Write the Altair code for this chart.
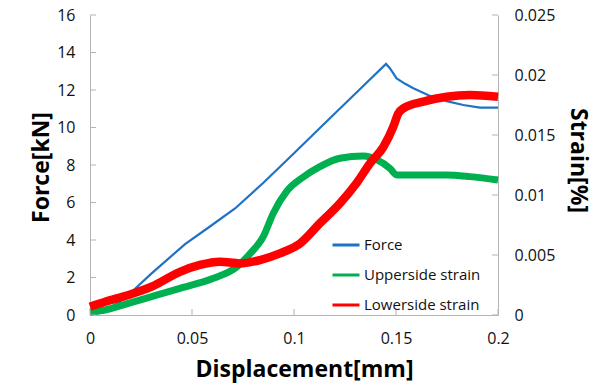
import altair as alt
import pandas as pd

# Load-displacement and surface strain readings
force_disp = [0, 0.005, 0.01, 0.015, 0.0188, 0.0302, 0.0466, 0.0588, 0.0711, 0.085,
              0.1, 0.1176, 0.13, 0.1451, 0.147, 0.1503, 0.1545, 0.1585, 0.1667, 0.1748,
              0.183, 0.1912, 0.2]
force_kn = [0, 0.12, 0.4, 0.75, 1.07, 2.22, 3.78, 4.72, 5.68, 7.05,
            8.63, 10.49, 11.8, 13.39, 13.16, 12.62, 12.33, 12.09, 11.68, 11.41,
            11.2, 11.06, 11.06]

upper_disp = [0, 0.0074, 0.0188, 0.0302, 0.0441, 0.0605, 0.0719, 0.0784, 0.085,
              0.0899, 0.0964, 0.1046, 0.1127, 0.1225, 0.134, 0.1405, 0.147, 0.1503,
              0.1585, 0.1748, 0.1863, 0.2]
upper_strain = [0.00025, 0.00042, 0.00097, 0.00153, 0.00222, 0.00306, 0.0040, 0.0051, 0.00655,
                0.0085, 0.0103, 0.0115, 0.01236, 0.01306, 0.01325, 0.01295, 0.01222, 0.01167,
                0.01167, 0.01167, 0.01153, 0.01125]

lower_disp = [0, 0.0074, 0.0188, 0.0302, 0.0441, 0.0539, 0.0637, 0.0735, 0.0833,
              0.0931, 0.1029, 0.1127, 0.1225, 0.1307, 0.1373, 0.1438, 0.1487, 0.1511,
              0.1536, 0.1634, 0.1748, 0.1863, 0.2]
lower_strain = [0.00069, 0.0011, 0.00167, 0.00236, 0.0036, 0.00417, 0.00444, 0.0043, 0.00458,
                0.00514, 0.00595, 0.00764, 0.0093, 0.011, 0.01264, 0.014, 0.0157, 0.0168,
                0.01722, 0.01778, 0.01819, 0.01833, 0.01819]

series_names = ["Force", "Upperside strain", "Lowerside strain"]
series_colors = ["#1f72c4", "#00b050", "#ff0000"]

disp_ticks = [0, 0.05, 0.1, 0.15, 0.2]
force_ticks = [0, 2, 4, 6, 8, 10, 12, 14, 16]
strain_ticks = [0, 0.005, 0.01, 0.015, 0.02, 0.025]

PLOT_W, PLOT_H = 408, 300
FONT = "Open Sans"
AXIS_GRAY = "#b4b4b4"
TICK_LEN = 6

force_df = pd.DataFrame({"disp": force_disp, "value": force_kn, "series": series_names[0]})
upper_df = pd.DataFrame({"disp": upper_disp, "value": upper_strain, "series": series_names[1]})
lower_df = pd.DataFrame({"disp": lower_disp, "value": lower_strain, "series": series_names[2]})

x_scale = alt.Scale(domain=[0, 0.2], nice=False)
force_scale = alt.Scale(domain=[0, 16], nice=False)
strain_scale = alt.Scale(domain=[0, 0.025], nice=False)

color = alt.Color(
    "series:N",
    scale=alt.Scale(domain=series_names, range=series_colors),
    legend=alt.Legend(
        title=None, orient="none", legendX=241, legendY=215, padding=0,
        symbolType="stroke", symbolSize=729, symbolStrokeWidth=3,
        labelFont=FONT, labelFontSize=15, labelColor="#111111", labelOffset=3,
        rowPadding=7, direction="vertical",
    ),
)

x_axis = alt.Axis(
    values=disp_ticks, title="Displacement[mm]", format="~g", grid=False, ticks=False,
    labelFlush=False, domainColor=AXIS_GRAY, labelFont=FONT, labelFontSize=16,
    labelColor="#111111", labelPadding=15, titleFont=FONT, titleFontSize=23,
    titleFontWeight="bold", titleColor="#000000", titleX=214, titleY=61,
    titleBaseline="alphabetic",
)
x_enc = alt.X("disp:Q", scale=x_scale, axis=x_axis)

force_line = alt.Chart(force_df).mark_line(strokeWidth=2.2).encode(
    x=x_enc,
    y=alt.Y(
        "value:Q", scale=force_scale,
        axis=alt.Axis(
            orient="left", values=force_ticks, title="Force[kN]", grid=False, ticks=False,
            labelFlush=False, domainColor=AXIS_GRAY, labelFont=FONT, labelFontSize=16,
            labelColor="#111111", labelPadding=15, titleFont=FONT, titleFontSize=23,
            titleFontWeight="bold", titleColor="#000000", titleX=-49, titleY=152,
            titleBaseline="middle",
        ),
    ),
    color=color,
)

upper_line = alt.Chart(upper_df).mark_line(strokeWidth=7, interpolate="monotone").encode(
    x=x_enc,
    y=alt.Y(
        "value:Q", scale=strain_scale,
        axis=alt.Axis(
            orient="right", values=strain_ticks, format="~g", title="Strain[%]", grid=False,
            ticks=False, labelFlush=False, domainColor=AXIS_GRAY, labelFont=FONT,
            labelFontSize=16, labelColor="#111111", labelPadding=16, titleFont=FONT,
            titleFontSize=23, titleFontWeight="bold", titleColor="#000000", titleX=79,
            titleY=145, titleBaseline="middle",
        ),
    ),
    color=color,
)

lower_line = alt.Chart(lower_df).mark_line(strokeWidth=8.5, interpolate="monotone").encode(
    x=x_enc,
    y=alt.Y("value:Q", scale=strain_scale, axis=None),
    color=color,
)

# Inward tick marks on the three axes
left_ticks = alt.Chart(pd.DataFrame({"v": force_ticks})).mark_rule(color=AXIS_GRAY).encode(
    y=alt.Y("v:Q", scale=force_scale, axis=None),
    x=alt.value(0), x2=alt.value(TICK_LEN),
)
right_ticks = alt.Chart(pd.DataFrame({"v": strain_ticks})).mark_rule(color=AXIS_GRAY).encode(
    y=alt.Y("v:Q", scale=strain_scale, axis=None),
    x=alt.value(PLOT_W - TICK_LEN), x2=alt.value(PLOT_W),
)
bottom_ticks = alt.Chart(pd.DataFrame({"disp": disp_ticks})).mark_rule(color=AXIS_GRAY).encode(
    x=x_enc,
    y=alt.value(PLOT_H - TICK_LEN), y2=alt.value(PLOT_H),
)

chart = (
    alt.layer(force_line, upper_line, lower_line, left_ticks, right_ticks, bottom_ticks)
    .resolve_scale(y="independent")
    .properties(
        width=PLOT_W, height=PLOT_H,
        autosize=alt.AutoSizeParams(type="none"),
        padding={"left": 90, "top": 15, "right": 105, "bottom": 70},
        background="white",
    )
    .configure_view(stroke=None)
)

chart.save("out.html", embed_options={"renderer": "svg", "actions": False})
